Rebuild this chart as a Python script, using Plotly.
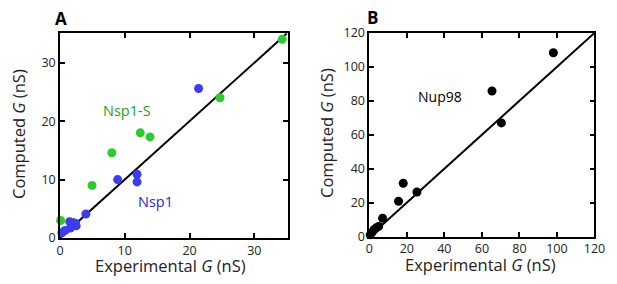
import plotly.graph_objects as go

# Panel A data
nsp1_exp = [0.3, 0.8, 1.5, 1.6, 2.1, 2.5, 2.4, 4.0, 8.9, 11.9, 11.9, 21.4]
nsp1_comp = [0.9, 1.3, 2.8, 1.7, 2.6, 2.1, 2.5, 4.1, 10.0, 10.9, 9.6, 25.6]
nsp1s_exp = [0.1, 4.95, 8.0, 12.4, 13.9, 24.7, 34.3]
nsp1s_comp = [3.0, 9.0, 14.6, 18.0, 17.3, 24.0, 34.0]
diag_a = [0, 35]
ticks_a = [0, 10, 20, 30]

# Panel B data
nup98_exp = [0.5, 1.5, 2.5, 3.5, 5.0, 7.1, 15.6, 18.1, 25.4, 65.4, 70.4, 98.1]
nup98_comp = [1.0, 2.5, 4.0, 5.0, 6.0, 10.8, 20.8, 31.4, 26.3, 85.8, 67.0, 108.3]
diag_b = [0, 120]
ticks_b = [0, 20, 40, 60, 80, 100, 120]

FONT = "Open Sans"
blue = "#3b3bf0"
green = "#2dcc2d"
W, H = 617, 284

fig = go.Figure()
fig.add_trace(go.Scatter(x=diag_a, y=diag_a, mode="lines", line=dict(color="black", width=2),
                         xaxis="x", yaxis="y", showlegend=False, hoverinfo="skip"))
fig.add_trace(go.Scatter(x=nsp1s_exp, y=nsp1s_comp, mode="markers",
                         marker=dict(color=green, size=9), xaxis="x", yaxis="y", showlegend=False,
                         cliponaxis=False))
fig.add_trace(go.Scatter(x=nsp1_exp, y=nsp1_comp, mode="markers",
                         marker=dict(color=blue, size=9), xaxis="x", yaxis="y", showlegend=False,
                         cliponaxis=False))
fig.add_trace(go.Scatter(x=diag_b, y=diag_b, mode="lines", line=dict(color="black", width=2),
                         xaxis="x2", yaxis="y2", showlegend=False, hoverinfo="skip"))
fig.add_trace(go.Scatter(x=nup98_exp, y=nup98_comp, mode="markers",
                         marker=dict(color="black", size=9), xaxis="x2", yaxis="y2", showlegend=False,
                         cliponaxis=False))

axis_common = dict(showgrid=False, zeroline=False, showline=True, linecolor="black", linewidth=1.5,
                   mirror="ticks", ticks="inside", ticklen=5, tickwidth=1.5, tickcolor="black",
                   automargin=False,
                   tickfont=dict(family=FONT, size=12.5, color="#222"))

fig.update_layout(
    width=W, height=H, margin=dict(l=0, r=0, t=0, b=0),
    paper_bgcolor="white", plot_bgcolor="white",
    xaxis=dict(axis_common, domain=[0.0972, 0.4668], range=[0, 35.2], tickvals=ticks_a, anchor="y"),
    yaxis=dict(axis_common, domain=[0.162, 0.884], range=[0, 35.1], tickvals=ticks_a, anchor="x"),
    xaxis2=dict(axis_common, domain=[0.5985, 0.9635], range=[0, 120], tickvals=ticks_b, anchor="y2"),
    yaxis2=dict(axis_common, domain=[0.167, 0.884], range=[0, 120], tickvals=ticks_b, anchor="x2"),
)


def ann(text, px, py, size, color="#222", angle=0):
    fig.add_annotation(text=text, x=px / W, y=1 - py / H, xref="paper", yref="paper",
                       xanchor="center", yanchor="middle", showarrow=False, textangle=angle,
                       font=dict(family=FONT, size=size, color=color))


ann("<b>A</b>", 61, 18, 17, "black")
ann("<b>B</b>", 372, 17, 17, "black")
ann("Experimental <i>G</i> (nS)", 171, 265.5, 16.5)
ann("Experimental <i>G</i> (nS)", 481, 264.5, 16.5)
ann("Computed <i>G</i> (nS)", 18, 134, 16.5, angle=-90)
ann("Computed <i>G</i> (nS)", 327, 133, 16.5, angle=-90)

fig.add_annotation(text="Nsp1-S", x=10.4, y=21.9, xref="x", yref="y", showarrow=False,
                   font=dict(family=FONT, size=14.5, color="#1f9f1f"))
fig.add_annotation(text="Nsp1", x=14.7, y=6.2, xref="x", yref="y", showarrow=False,
                   font=dict(family=FONT, size=14.5, color="#2a2ad8"))
fig.add_annotation(text="Nup98", x=37.7, y=82.3, xref="x2", yref="y2", showarrow=False,
                   font=dict(family=FONT, size=14, color="black"))

fig.write_html("out.html", config={"displayModeBar": False},
               post_script="document.body.style.margin='0';document.body.style.overflow='hidden';")
